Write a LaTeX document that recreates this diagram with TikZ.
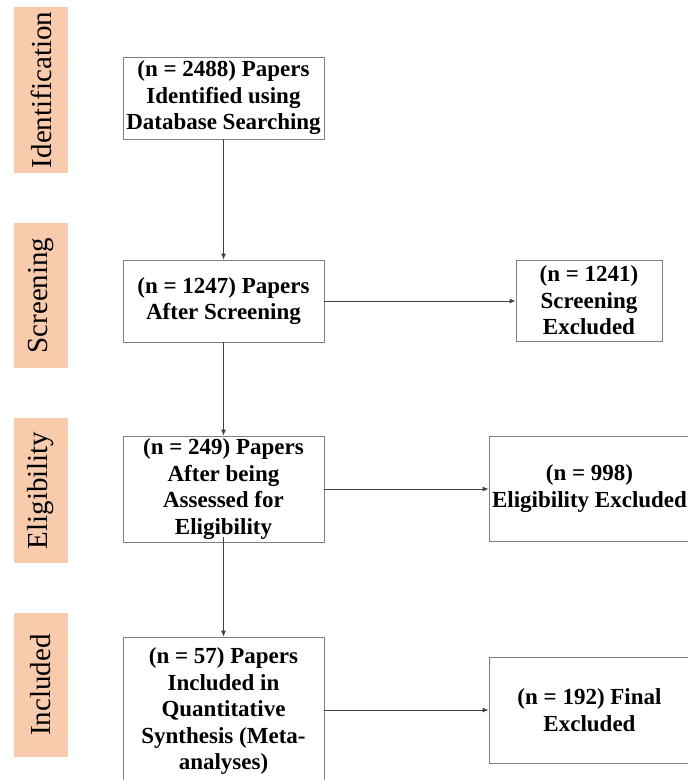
\documentclass[tikz,border=0pt]{standalone}
\usepackage{fontspec}
\setmainfont{Liberation Serif}
\usetikzlibrary{arrows.meta}
\definecolor{peach}{HTML}{F8CBAD}
\definecolor{boxgray}{HTML}{808080}
\definecolor{linegray}{HTML}{404040}
\begin{document}
\begin{tikzpicture}[x=1pt,y=-1pt,
  stage/.style={fill=peach, rotate=90, minimum height=54pt, inner sep=0pt, font=\fontsize{29}{30}\selectfont},
  box/.style={draw=boxgray, line width=0.8pt, align=center, inner sep=0pt, font=\fontsize{23}{26.5}\selectfont\bfseries},
  arr/.style={draw=linegray, line width=0.8pt, -{Latex[length=6pt,width=5pt]}}]
\useasboundingbox (0,0) rectangle (688,780);
% stage labels
\node[stage, minimum width=166pt] (lid) at (41,90) {Identification};
\node[stage, minimum width=145pt] (lsc) at (41,295.5) {Screening};
\node[stage, minimum width=145pt] (lel) at (41,490.5) {Eligibility};
\node[stage, minimum width=144pt] (lin) at (41,685) {Included};
% main boxes
\node[box, minimum width=201pt, minimum height=82pt] (b1) at (223.5,98) {(n = 2488) Papers\\Identified using\\Database Searching};
\node[box, minimum width=201pt, minimum height=82pt] (b2) at (223.5,301) {(n = 1247) Papers\\After Screening};
\node[box, minimum width=201pt, minimum height=106pt] (b3) at (223.5,489) {(n = 249) Papers\\After being\\Assessed for\\Eligibility};
\node[box, minimum width=201pt, minimum height=148pt] (b4) at (223.5,711) {(n = 57) Papers\\Included in\\Quantitative\\Synthesis (Meta-\\analyses)};
% excluded boxes
\node[box, minimum width=146pt, minimum height=81pt] (se) at (589,300.5) {(n = 1241)\\Screening\\Excluded};
\node[box, minimum width=201pt, minimum height=105pt] (ee) at (589.5,488.5) {(n = 998)\\Eligibility Excluded};
\node[box, minimum width=201pt, minimum height=106pt] (fe) at (589.5,710) {(n = 192) Final\\Excluded};
% connectors
\draw[arr] (b1.south) -- (b2.north);
\draw[arr] (b2.south) -- (b3.north);
\draw[arr] ([yshift=5pt]b3.south) -- (b4.north);
\draw[arr] (b2.east) -- (b2.east -| se.west);
\draw[arr] (b3.east) -- (b3.east -| ee.west);
\draw[arr] (fe.west -| b4.east) -- (fe.west);
\end{tikzpicture}
\end{document}
